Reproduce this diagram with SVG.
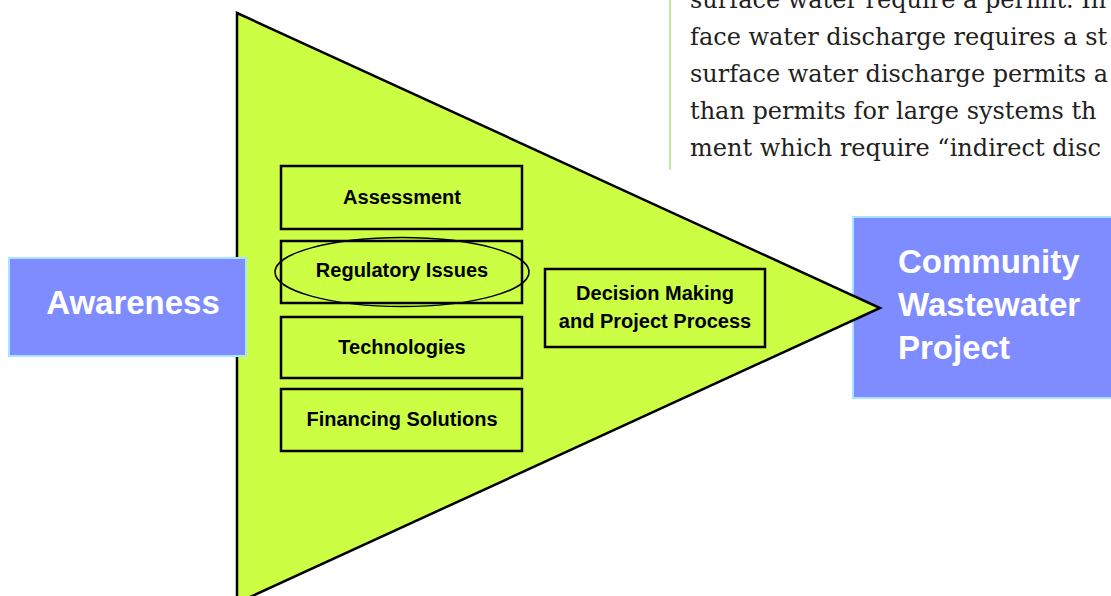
<svg xmlns="http://www.w3.org/2000/svg" width="1111" height="596" viewBox="0 0 1111 596">
<style>
.body{font-family:"DejaVu Serif","Liberation Serif",serif;font-size:24px;fill:#231f20}
.box{fill:#ccff44;stroke:#000;stroke-width:2.5}
.lbl{font-family:"Liberation Sans",Arial,sans-serif;font-weight:bold;font-size:20px;fill:#000;text-anchor:middle}
.big{fill:#7f8cff;stroke:#a6e4ff;stroke-width:2}
.bigt{font-family:"Liberation Sans",Arial,sans-serif;font-weight:bold;font-size:33px;fill:#fff}
</style>
<rect width="1111" height="596" fill="#fff"/>
<g id="sidebar-text">
<line x1="670" y1="0" x2="670" y2="170" stroke="#c8e8a0" stroke-width="2"/>
<text class="body" x="690" y="7.5">surface water require a permit. In</text>
<text class="body" x="690" y="44.5">face water discharge requires a st</text>
<text class="body" x="690" y="81.5">surface water discharge permits a</text>
<text class="body" x="690" y="118.5">than permits for large systems th</text>
<text class="body" x="690" y="155.5">ment which require “indirect disc</text>
</g>
<g id="community">
<rect class="big" x="853" y="217" width="270" height="181"/>
<text class="bigt" x="898" y="273" font-size="34.5">Community</text>
<text class="bigt" x="898" y="316" font-size="34.5">Wastewater</text>
<text class="bigt" x="898" y="359" font-size="34.5">Project</text>
</g>
<g id="funnel">
<polygon points="237,13 880,308 237,603" fill="#ccff44" stroke="#000" stroke-width="2.5" stroke-linejoin="miter"/>
</g>
<g id="awareness">
<rect class="big" x="9" y="258" width="237" height="98"/>
<text class="bigt" x="133" y="314" text-anchor="middle">Awareness</text>
</g>
<g id="assessment">
<rect class="box" x="281" y="166" width="241" height="63"/>
<text class="lbl" x="402" y="204">Assessment</text>
</g>
<g id="regulatory">
<rect class="box" x="281" y="241" width="241" height="62"/>
<ellipse cx="402" cy="272" rx="127" ry="34.5" fill="none" stroke="#000" stroke-width="1.5"/>
<text class="lbl" x="402" y="277">Regulatory Issues</text>
</g>
<g id="technologies">
<rect class="box" x="281" y="317" width="241" height="61"/>
<text class="lbl" x="402" y="354">Technologies</text>
</g>
<g id="financing">
<rect class="box" x="281" y="389" width="241" height="62"/>
<text class="lbl" x="402" y="426">Financing Solutions</text>
</g>
<g id="decision">
<rect class="box" x="545" y="269" width="220" height="78"/>
<text class="lbl" x="655" y="300">Decision Making</text>
<text class="lbl" x="655" y="328">and Project Process</text>
</g>
<g id="connectors"></g>
</svg>
